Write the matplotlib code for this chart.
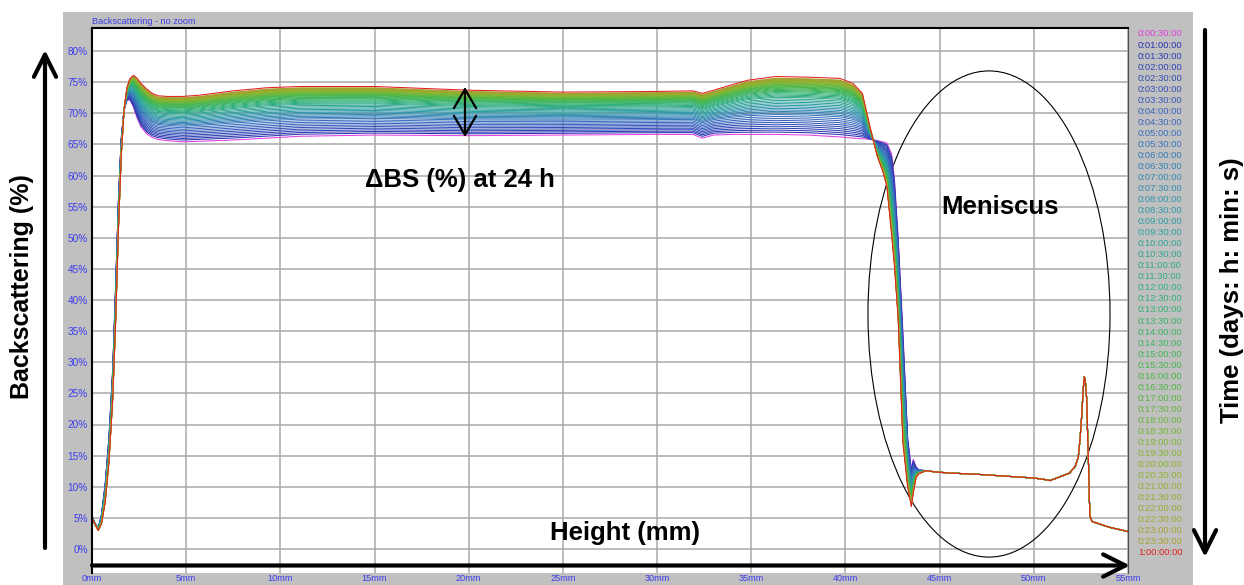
import matplotlib
matplotlib.use('Agg')
import matplotlib.pyplot as plt
from matplotlib.patches import Ellipse, Rectangle
from matplotlib.colors import LinearSegmentedColormap

plt.rcParams['font.family'] = ['Liberation Sans', 'DejaVu Sans']

# --- datos ---
# zona donde los barridos difieren (mm, BS %)
height_mm = [0.0, 0.15, 0.33, 0.5, 0.7, 0.9, 1.1, 1.25, 1.4, 1.55,
             1.7, 1.85, 2.0, 2.2, 2.4, 2.6, 2.9, 3.2, 3.5, 4.0,
             4.8, 5.7, 7.5, 9.3, 11.0, 15.0, 20.0, 25.0, 30.0, 31.9,
             32.4, 33.0, 34.0, 34.8, 36.3, 38.0, 39.7, 40.4, 40.9, 41.3,
             41.7, 42.0, 42.2, 42.45, 42.6, 42.8, 43.05, 43.3, 43.5, 43.6,
             43.75, 43.9]
bs_first_scan = [5.3, 4.2, 3.4, 5.5, 10.5, 18.0, 29.0, 42.0, 56.0, 66.0,
                 70.5, 72.0, 72.2, 71.0, 69.2, 67.8, 66.7, 66.1, 65.8, 65.6,
                 65.4, 65.5, 65.7, 66.0, 66.3, 66.5, 66.4, 66.5, 66.6, 66.6,
                 66.0, 66.5, 66.6, 66.6, 66.6, 66.5, 66.2, 66.0, 65.9, 65.8,
                 65.6, 65.4, 65.2, 63.5, 59.5, 50.0, 35.0, 18.0, 12.8, 14.4,
                 13.2, 12.7]
bs_last_scan = [5.0, 4.0, 3.0, 4.0, 7.5, 14.0, 24.0, 36.0, 51.0, 63.0,
                70.5, 74.0, 75.5, 76.1, 75.6, 74.8, 73.9, 73.2, 72.8, 72.7,
                72.7, 72.9, 73.6, 74.1, 74.3, 74.3, 73.7, 73.4, 73.5, 73.6,
                73.2, 73.7, 74.6, 75.3, 75.9, 75.8, 75.6, 74.8, 73.2, 67.8,
                63.0, 60.5, 58.2, 50.5, 45.5, 36.8, 17.0, 10.0, 6.8, 9.0,
                11.5, 12.1]

# menisco: todos los barridos coinciden
tail_height = [44.3, 44.7, 45.55, 47.0, 48.5, 50.0, 50.5, 50.86, 51.3, 51.9,
               52.2, 52.36, 52.45, 52.54, 52.62, 52.68, 52.75, 52.81, 52.86, 52.9,
               52.95, 52.98, 53.1, 54.0, 55.0]
tail_bs = [12.6, 12.4, 12.2, 12.0, 11.7, 11.4, 11.2, 11.0, 11.5, 12.2,
           13.3, 14.8, 17.5, 21.3, 25.5, 27.7, 26.5, 23.9, 18.0, 14.0,
           8.0, 5.2, 4.4, 3.5, 2.8]

# subida de BS en la meseta de cada barrido respecto al primero (%)
delta_bs = [0.00, 0.30, 0.55, 0.80, 1.05, 1.30, 1.55, 1.80, 2.05, 2.30,
            2.55, 2.75, 2.95, 3.15, 3.35, 3.55, 3.75, 3.95, 4.15, 4.35,
            4.55, 4.75, 4.90, 5.05, 5.20, 5.35, 5.50, 5.62, 5.74, 5.86,
            5.98, 6.08, 6.18, 6.28, 6.38, 6.47, 6.56, 6.64, 6.72, 6.79,
            6.86, 6.92, 6.98, 7.03, 7.08, 7.13, 7.18, 7.40]

scan_labels = ['0:00:30:00', '0:01:00:00', '0:01:30:00', '0:02:00:00', '0:02:30:00',
               '0:03:00:00', '0:03:30:00', '0:04:00:00', '0:04:30:00', '0:05:00:00',
               '0:05:30:00', '0:06:00:00', '0:06:30:00', '0:07:00:00', '0:07:30:00',
               '0:08:00:00', '0:08:30:00', '0:09:00:00', '0:09:30:00', '0:10:00:00',
               '0:10:30:00', '0:11:00:00', '0:11:30:00', '0:12:00:00', '0:12:30:00',
               '0:13:00:00', '0:13:30:00', '0:14:00:00', '0:14:30:00', '0:15:00:00',
               '0:15:30:00', '0:16:00:00', '0:16:30:00', '0:17:00:00', '0:17:30:00',
               '0:18:00:00', '0:18:30:00', '0:19:00:00', '0:19:30:00', '0:20:00:00',
               '0:20:30:00', '0:21:00:00', '0:21:30:00', '0:22:00:00', '0:22:30:00',
               '0:23:00:00', '0:23:30:00', '1:00:00:00']

x_ticks = [0, 5, 10, 15, 20, 25, 30, 35, 40, 45, 50, 55]
x_tick_labels = ['0mm', '5mm', '10mm', '15mm', '20mm', '25mm', '30mm',
                 '35mm', '40mm', '45mm', '50mm', '55mm']
y_ticks = [0, 5, 10, 15, 20, 25, 30, 35, 40, 45, 50, 55, 60, 65, 70, 75, 80]
y_tick_labels = ['0%', '5%', '10%', '15%', '20%', '25%', '30%', '35%', '40%',
                 '45%', '50%', '55%', '60%', '65%', '70%', '75%', '80%']

first_color = '#e040e0'
last_color = '#e02020'
gradient_stops = ['#2b35b0', '#3a6cc0', '#2e9aa8', '#30b07a', '#45b545', '#8ab530', '#a8a030']

# --- figura ---
W, H = 1244, 585
fig = plt.figure(figsize=(W / 100, H / 100), dpi=100)


def fx(px):
    return px / W


def fy(py):
    return 1 - py / H


fig.patches.append(Rectangle((fx(63), fy(585)), fx(1193) - fx(63), fy(12) - fy(585),
                             transform=fig.transFigure, facecolor='#c0c0c0',
                             edgecolor='none', zorder=-1))

ax = fig.add_axes([fx(92), fy(573), fx(1128) - fx(92), fy(28) - fy(573)])
ax.set_xlim(0, 55)
ax.set_ylim((549 - 573) / 6.225, (549 - 28) / 6.225)
ax.set_xticks(x_ticks, x_tick_labels)
ax.set_yticks(y_ticks, y_tick_labels)
ax.grid(True, color='#a8a8a8', lw=1.1)
ax.set_axisbelow(True)
ax.tick_params(axis='y', length=0, pad=3, labelsize=7.2, labelcolor='#3c3cf0')
ax.tick_params(axis='x', length=0, pad=0.5, labelsize=6.6, labelcolor='#3c3cf0')
ax.spines['left'].set_linewidth(1.5)
ax.spines['top'].set_linewidth(1.5)
ax.spines['right'].set_color('#505050')
ax.spines['bottom'].set_visible(False)

cmap = LinearSegmentedColormap.from_list('scans', gradient_stops)
n = len(delta_bs)
colors = [first_color] + [cmap((k - 1) / (n - 3)) for k in range(1, n - 1)] + [last_color]

for k, d in enumerate(delta_bs):
    w = d / delta_bs[-1]
    ys = [a + w * (b - a) for a, b in zip(bs_first_scan, bs_last_scan)]
    ax.plot(height_mm + tail_height, ys + tail_bs, color=colors[k], lw=0.75)

ax.add_patch(Ellipse((47.62, 37.75), 12.85, 78.1, fill=False, lw=0.8, ec='black'))

# textos
fig.text(fx(92), fy(21), 'Backscattering - no zoom', fontsize=6.6, color='#3c3ce0',
         ha='left', va='center')
bold = dict(fontweight='bold', ha='center', va='center', color='black')
fig.text(fx(460), fy(180), 'ΔBS (%) at 24 h', fontsize=18.5, **bold)
fig.text(fx(1000), fy(207), 'Meniscus', fontsize=18.5, **bold)
fig.text(fx(625), fy(533), 'Height (mm)', fontsize=18.5, **bold)
fig.text(fx(22), fy(287), 'Backscattering (%)', fontsize=18, rotation=90, **bold)
fig.text(fx(1232), fy(290), 'Time (days: h: min: s)', fontsize=18.5, rotation=90, **bold)

for i, lab in enumerate(scan_labels):
    fig.text(fx(1138), fy(34 + i * 11.04), lab, fontsize=6.8, color=colors[i],
             ha='left', va='center')

# flechas
big = dict(arrowstyle='->,head_length=1.6,head_width=0.8', lw=3, color='black',
           shrinkA=0, shrinkB=0)
ax.annotate('', xy=(45, H - 50), xytext=(45, H - 548), xycoords='figure pixels',
            textcoords='figure pixels', arrowprops=big, annotation_clip=False)
ax.annotate('', xy=(1205, H - 557), xytext=(1205, H - 30), xycoords='figure pixels',
            textcoords='figure pixels', arrowprops=big, annotation_clip=False)
ax.annotate('', xy=(1130, H - 565.5), xytext=(92, H - 565.5), xycoords='figure pixels',
            textcoords='figure pixels', arrowprops=big, annotation_clip=False)
ax.annotate('', xy=(465, H - 87), xytext=(465, H - 137), xycoords='figure pixels',
            textcoords='figure pixels',
            arrowprops=dict(arrowstyle='<->,head_length=1.37,head_width=0.8', lw=1.6,
                            color='black', shrinkA=0, shrinkB=0),
            annotation_clip=False)

fig.savefig('out.png', dpi=100)
